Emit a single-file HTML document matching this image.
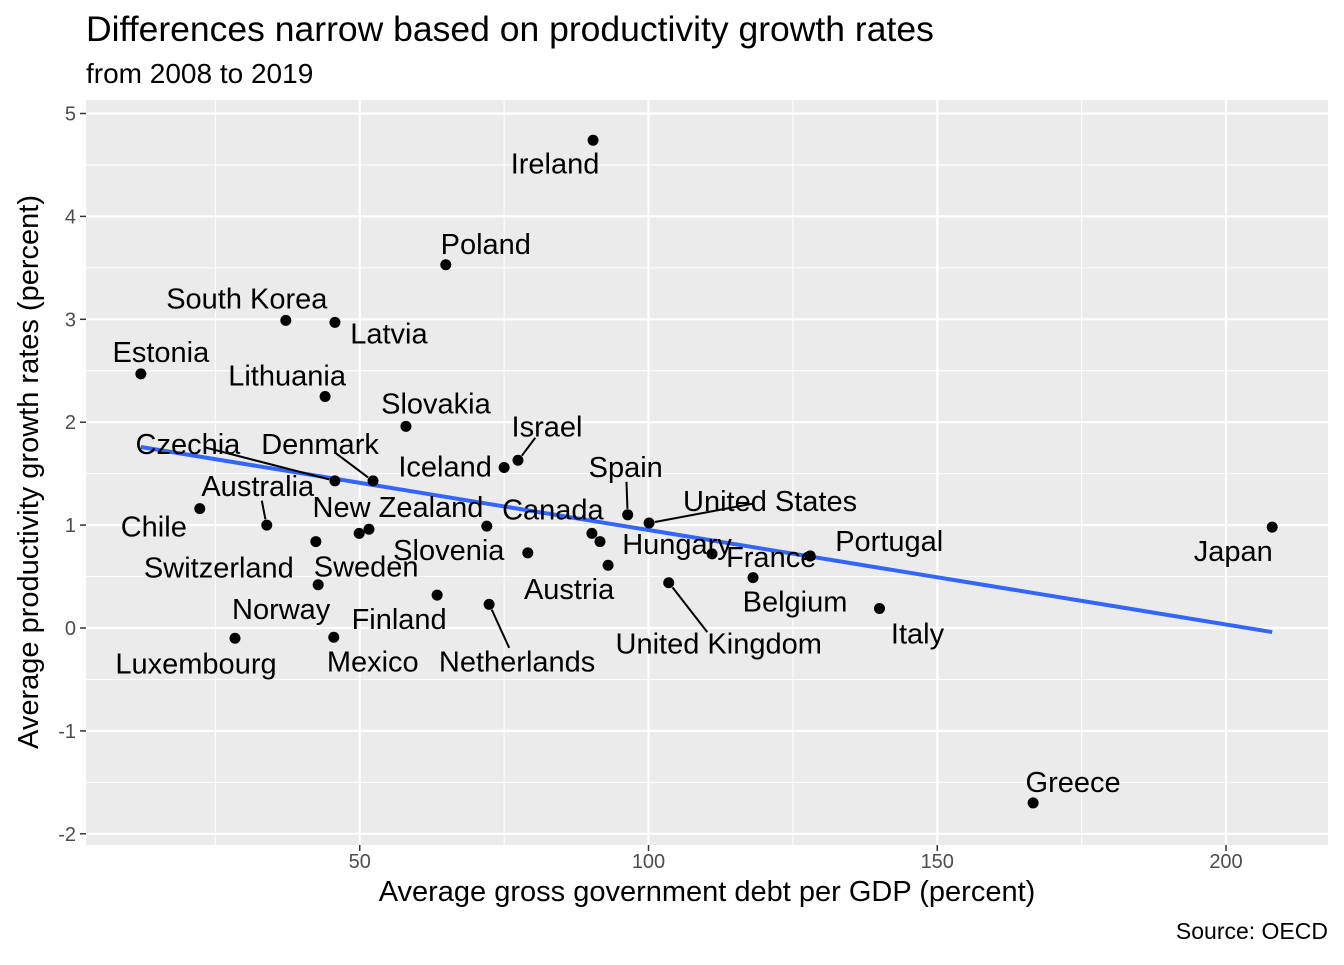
<!DOCTYPE html>
<html><head><meta charset="utf-8"><style>
body{margin:0;background:#fff;font-family:"Liberation Sans",sans-serif}
svg text{font-family:"Liberation Sans",sans-serif}
</style></head><body>
<svg id="c" width="1344" height="960">
<text x="86" y="41" font-size="35.5" fill="#000">Differences narrow based on productivity growth rates</text>
<text x="86" y="83" font-size="28" fill="#000">from 2008 to 2019</text>
<rect x="86" y="100" width="1242" height="745" fill="#ebebeb"/>
<g id="grid"></g><g id="trend"></g><g id="pts"></g><g id="lbls"></g><g id="axes"></g>
<text x="707" y="901" font-size="29" text-anchor="middle">Average gross government debt per GDP (percent)</text>
<text transform="translate(38,472) rotate(-90)" font-size="29" text-anchor="middle">Average productivity growth rates (percent)</text>
<text x="1328" y="939" font-size="23" text-anchor="end">Source: OECD</text>
</svg>
<script>
const countries=["Ireland","Poland","South Korea","Latvia","Estonia","Lithuania","Slovakia","Israel","Iceland","Czechia","Denmark","Chile","Australia","New Zealand","Germany","Canada","Spain","United States","Netherlands2","Slovenia","Hungary","France","Portugal","Japan","Switzerland","Sweden","Austria","Belgium","Norway","Finland","Italy","United Kingdom","Luxembourg","Mexico","Netherlands","Greece"];
const debt=[90.4,64.9,37.2,45.7,12.1,44.0,58.0,77.4,75.0,45.7,52.3,22.3,33.9,51.6,72.0,90.2,96.4,100.1,91.6,79.1,111,128,128,208,42.4,49.9,93.0,118.1,42.8,63.4,140,103.5,28.4,45.5,72.4,166.6];
const prod=[4.74,3.53,2.99,2.97,2.47,2.25,1.96,1.63,1.56,1.43,1.43,1.16,1.0,0.96,0.99,0.92,1.10,1.02,0.84,0.73,0.72,0.70,0.70,0.98,0.84,0.92,0.61,0.49,0.42,0.32,0.19,0.44,-0.10,-0.09,0.23,-1.70];
const xTicks=[50,100,150,200];
const yTicks=[-2,-1,0,1,2,3,4,5];
const trendIntercept=1.87, trendSlope=-0.00918, trendX=[12.1,208];
const off={"Ireland":[-38,23],"Poland":[40,-21],"South Korea":[-39,-22],"Latvia":[54,11],"Estonia":[20,-22],"Lithuania":[-38,-21],"Slovakia":[30,-23],"Israel":[29,-34,1],"Iceland":[-59,-1],"Czechia":[-147,-37,1],"Denmark":[-53,-37,1],"Chile":[-46,18],"Australia":[-9,-39,1],"New Zealand":[29,-22],"Canada":[-39,-24],"Spain":[-2,-48,1],"United States":[121,-22,1],"Slovenia":[-79,-3],"Hungary":[-35,-10],"France":[-39,1],"Portugal":[79,-15],"Japan":[-39,24],"Switzerland":[-97,26],"Sweden":[7,33],"Austria":[-39,24],"Belgium":[42,24],"Norway":[-37,24],"Finland":[-38,24],"Italy":[38,25],"United Kingdom":[50,61,1],"Luxembourg":[-39,25],"Mexico":[39,24],"Netherlands":[28,57,1],"Greece":[40,-21]};
const X=v=>71+v*5.775, Y=v=>628-v*102.9;
const NS="http://www.w3.org/2000/svg";
function mk(t,a,p){const e=document.createElementNS(NS,t);for(const k in a)e.setAttribute(k,a[k]);p.appendChild(e);return e;}
const g=document.getElementById('grid');
[25,75,125,175].forEach(v=>{const l=mk('line',{x1:X(v),x2:X(v),y1:100,y2:845,stroke:'#fff','stroke-width':1},g);});
[-1.5,-0.5,0.5,1.5,2.5,3.5,4.5].forEach(v=>{const l=mk('line',{x1:86,x2:1328,y1:Y(v),y2:Y(v),stroke:'#fff','stroke-width':1},g);});
const ax=document.getElementById('axes');
xTicks.forEach(v=>{const l=mk('line',{x1:X(v),x2:X(v),y1:100,y2:845,stroke:'#fff','stroke-width':2.2},g);
 const t=mk('line',{x1:X(v),x2:X(v),y1:845,y2:851,stroke:'#333','stroke-width':1.5},ax);
 const tx=mk('text',{x:X(v),y:868,'font-size':20,fill:'#4d4d4d','text-anchor':'middle'},ax);tx.textContent=v;});
yTicks.forEach(v=>{const l=mk('line',{x1:86,x2:1328,y1:Y(v),y2:Y(v),stroke:'#fff','stroke-width':2.2},g);
 const t=mk('line',{x1:80,x2:86,y1:Y(v),y2:Y(v),stroke:'#333','stroke-width':1.5},ax);
 const tx=mk('text',{x:76,y:Y(v)+7,'font-size':20,fill:'#4d4d4d','text-anchor':'end'},ax);tx.textContent=v;});
const tl=mk('line',{x1:X(trendX[0]),y1:Y(trendIntercept+trendSlope*trendX[0]),x2:X(trendX[1]),y2:Y(trendIntercept+trendSlope*trendX[1]),stroke:'#3366ff','stroke-width':4},document.getElementById('trend'));


const P=document.getElementById('pts'),L=document.getElementById('lbls');
countries.forEach((c,i)=>{const px=X(debt[i]),py=Y(prod[i]);
 const o=off[c];
 if(o){const lx=px+o[0],ly=py+o[1];
  if(o[2]){const dx=lx-px,dy=ly-py,d=Math.hypot(dx,dy);const s=mk('line',{x1:px+dx*6/d,y1:py+dy*6/d,x2:lx-dx*18/d,y2:ly-dy*15/d,stroke:'#000','stroke-width':2},P);}
  const t=mk('text',{x:lx,y:ly+10,'font-size':29,'text-anchor':'middle',fill:'#000'},L);t.textContent=c;}
 const d=mk('circle',{cx:px,cy:py,r:5.5,fill:'#000'},P);});
</script>
</body></html>
